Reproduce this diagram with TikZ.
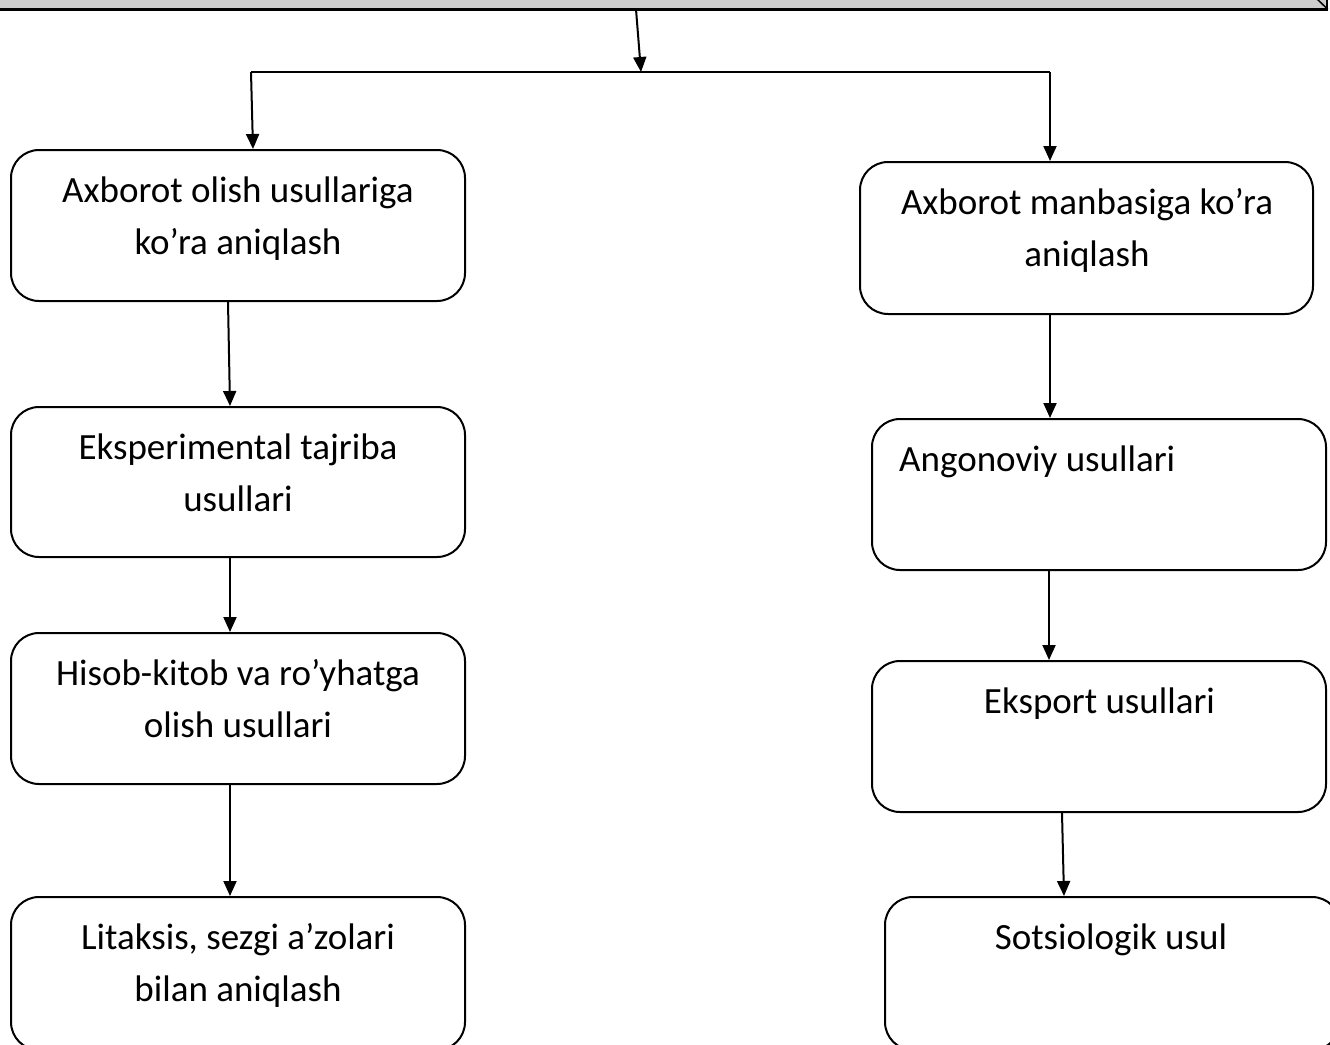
\documentclass[tikz,border=0pt]{standalone}
\usepackage{fontspec}
\setmainfont{Carlito}
\usetikzlibrary{arrows.meta,calc}
\definecolor{bargray}{HTML}{CCCCCC}
\begin{document}
\begin{tikzpicture}[x=1pt,y=-1pt,
  box/.style={draw, line width=2pt, rounded corners=28pt, minimum width=454pt, minimum height=151pt, inner sep=0pt},
  txt/.style={font=\fontsize{37}{52}\selectfont, align=center, inner sep=0pt, anchor=north},
  arr/.style={line width=2pt, -{Triangle[length=15pt,width=13pt]}},
  link/.style={line width=2pt}]
\useasboundingbox (0,0) rectangle (1330,1044);
\clip (0,0) rectangle (1330,1044);
% top bar
\node[draw, fill=bargray, line width=1.5pt, minimum width=1337pt, minimum height=38.5pt, inner sep=0pt] (top) at (658.5,-10.75) {};
\draw[line width=3pt] (top.south west) -- (top.south east);
\draw[line width=1.5pt] (1317,-1) -- (top.south east);
% boxes
\node[box] (b1) at (238,225.5) {};
\node[box, minimum height=150pt] (b2) at (238,482) {};
\node[box] (b3) at (238,708.5) {};
\node[box, minimum height=153pt] (b4) at (238,973.5) {};
\node[box, minimum width=453pt, minimum height=152pt] (r1) at (1086.5,238) {};
\node[box] (r2) at (1099,494.5) {};
\node[box] (r3) at (1099,736.5) {};
\node[box, minimum width=455pt, minimum height=153pt] (r4) at (1112.5,973.5) {};
% texts
\node[txt] (t1) at (238,165.6) {\strut Axborot olish usullariga\\ko’ra aniqlash};
\node[txt] (t2) at (238,422.6) {\strut Eksperimental tajriba\\usullari};
\node[txt] (t3) at (238,648.6) {\strut Hisob-kitob va ro’yhatga\\olish usullari};
\node[txt] (t4) at (238,912.6) {\strut Litaksis, sezgi a’zolari\\bilan aniqlash};
\node[txt] (u1) at (1087,177.6) {\strut Axborot manbasiga ko’ra\\aniqlash};
\node[txt, anchor=north west, align=left] (u2) at (899,434.6) {\strut Angonoviy usullari};
\node[txt] (u3) at (1099.5,676.6) {\strut Eksport usullari};
\node[txt] (u4) at (1111,912.6) {\strut Sotsiologik usul};
% connectors
\coordinate (j) at (641,72);
\coordinate (hl) at (251,72);
\coordinate (hr) at (1050,72);
\draw[arr] ([xshift=-22.5pt]top.south) -- (j);
\draw[link] (hl) -- (hr);
\draw[arr] (hl) -- ([xshift=15pt]b1.north);
\draw[arr] (hr) -- ([xshift=-36.5pt]r1.north);
\draw[arr] ([xshift=-10pt]b1.south) -- ([xshift=-8pt]b2.north);
\draw[arr] ([xshift=-8pt]b2.south) -- ([xshift=-8pt]b3.north);
\draw[arr] ([xshift=-8pt]b3.south) -- ([xshift=-8pt]b4.north);
\draw[arr] ([xshift=-36.5pt]r1.south) -- ([xshift=-49pt]r2.north);
\draw[arr] ([xshift=-50pt]r2.south) -- ([xshift=-50pt]r3.north);
\draw[arr] ([xshift=-37pt]r3.south) -- ([xshift=-48.5pt]r4.north);
\end{tikzpicture}
\end{document}
